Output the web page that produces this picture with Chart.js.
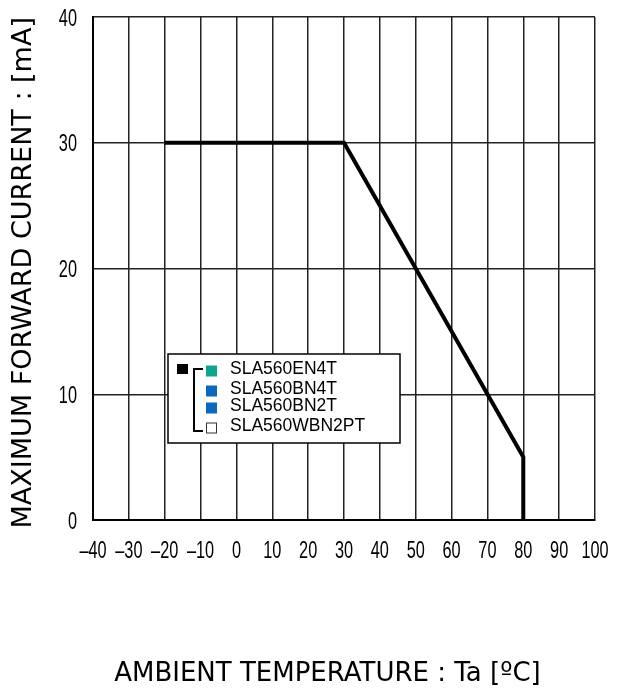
<!DOCTYPE html>
<html>
<head>
<meta charset="utf-8">
<script src="https://cdn.jsdelivr.net/npm/chart.js@4"></script>
<style>
  html, body { margin: 0; padding: 0; background: #fff; }
  #wrap { width: 622px; height: 692px; }
</style>
</head>
<body>
<div id="wrap"><canvas id="derating"></canvas></div>
<script>
// derating curve: ambient temperature (degC) vs max forward current (mA)
const temps = [-20, 30, 80, 80];
const currents = [30, 30, 5, 0];
const xTicks = [-40, -30, -20, -10, 0, 10, 20, 30, 40, 50, 60, 70, 80, 90, 100];
const yTicks = [0, 10, 20, 30, 40];
const legendNames = ["SLA560EN4T", "SLA560BN4T", "SLA560BN2T", "SLA560WBN2PT"];
const legendColors = ["#0fa394", "#0b68bd", "#0b68bd", "#ffffff"];

const titleFamily = "'DejaVu Sans', Verdana, sans-serif";

// tick numbers in a condensed face (squeezed horizontally)
const narrowTicks = {
  id: "narrowTicks",
  afterDraw(chart) {
    const ctx = chart.ctx;
    const sx = 0.68;
    ctx.save();
    ctx.fillStyle = "#000";
    ctx.font = "24px 'Liberation Sans', Arial, sans-serif";
    ctx.textBaseline = "middle";
    const xs = chart.scales.x;
    ctx.textAlign = "center";
    xTicks.forEach(v => {
      const px = xs.getPixelForValue(v);
      ctx.save();
      ctx.translate(px, 551);
      ctx.scale(sx, 1);
      ctx.fillText(String(v).replace("-", "\u2013"), 0, 0);
      ctx.restore();
    });
    const ys = chart.scales.y;
    ctx.textAlign = "right";
    yTicks.forEach(v => {
      const py = ys.getPixelForValue(v);
      ctx.save();
      ctx.translate(77, py + 2);
      ctx.scale(sx, 1);
      ctx.fillText(String(v), 0, 0);
      ctx.restore();
    });
    ctx.restore();
  }
};

// legend box drawn on top of the plot
const legendBox = {
  id: "legendBox",
  afterDraw(chart) {
    const ctx = chart.ctx;
    ctx.save();
    ctx.fillStyle = "#fff";
    ctx.fillRect(168, 354, 232, 89);
    ctx.strokeStyle = "#000";
    ctx.lineWidth = 1.5;
    ctx.strokeRect(168, 354, 232, 89);

    ctx.fillStyle = "#000";
    ctx.fillRect(177, 364, 11, 10);

    ctx.lineWidth = 2;
    ctx.beginPath();
    ctx.moveTo(203, 369); ctx.lineTo(194, 369);
    ctx.lineTo(194, 431); ctx.lineTo(203, 431);
    ctx.stroke();

    const rows = [371, 391, 408, 428];
    ctx.font = "17.5px 'Liberation Sans', Arial, sans-serif";
    ctx.textBaseline = "middle";
    legendNames.forEach((name, i) => {
      const y = rows[i];
      ctx.fillStyle = legendColors[i];
      ctx.fillRect(206, y - 5.5, 11, 11);
      if (legendColors[i] === "#ffffff") {
        ctx.lineWidth = 1;
        ctx.strokeStyle = "#333";
        ctx.strokeRect(206.5, y - 5, 10, 10);
      }
      ctx.fillStyle = "#000";
      ctx.fillText(name, 230, y - 2);
    });
    ctx.restore();
  }
};

new Chart(document.getElementById("derating"), {
  type: "line",
  data: {
    datasets: [{
      label: "Max forward current",
      data: temps.map((t, i) => ({ x: t, y: currents[i] })),
      borderColor: "#000",
      borderWidth: 4,
      pointRadius: 0,
      tension: 0,
      fill: false
    }]
  },
  options: {
    responsive: true,
    maintainAspectRatio: false,
    animation: false,
    layout: { padding: { top: 17, right: 27, bottom: 0, left: 0 } },
    plugins: {
      legend: { display: false },
      tooltip: { enabled: false }
    },
    scales: {
      x: {
        type: "linear",
        min: -40,
        max: 100,
        afterBuildTicks: (s) => { s.ticks = xTicks.map(v => ({ value: v })); },
        afterFit: (s) => { s.height = 172; },
        ticks: { display: false },
        grid: { color: "#222", lineWidth: 1.5, drawTicks: false },
        border: { color: "#000", width: 2 },
        title: {
          display: true,
          // trailing spaces nudge the centred title a little to the left
          text: "AMBIENT TEMPERATURE : Ta [ºC]\u00a0\u00a0\u00a0\u00a0",
          color: "#000",
          font: { family: titleFamily, size: 26 },
          padding: { top: 0, bottom: 2 }
        }
      },
      y: {
        min: 0,
        max: 40,
        afterBuildTicks: (s) => { s.ticks = yTicks.map(v => ({ value: v })); },
        afterFit: (s) => { s.width = 93; },
        ticks: { display: false },
        grid: { color: "#222", lineWidth: 1.5, drawTicks: false },
        border: { color: "#000", width: 2 },
        title: {
          display: true,
          text: "MAXIMUM FORWARD CURRENT : [mA]\u00a0",
          color: "#000",
          font: { family: titleFamily, size: 27 },
          padding: { top: 8, bottom: 0 }
        }
      }
    }
  },
  plugins: [narrowTicks, legendBox]
});
</script>
</body>
</html>
